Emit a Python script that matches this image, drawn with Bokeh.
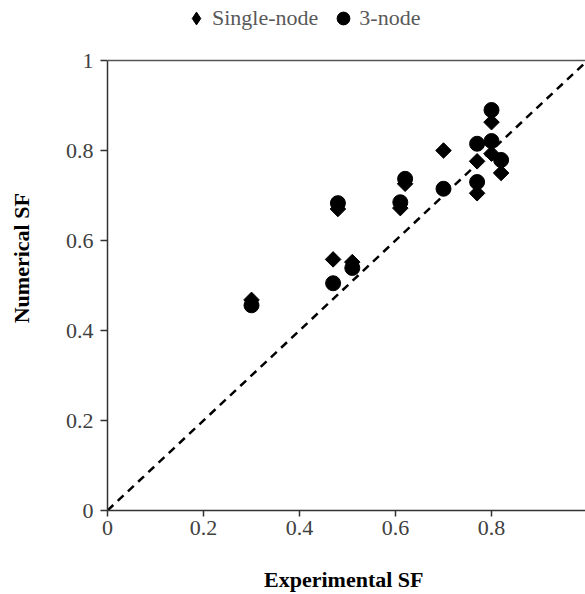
import math
from bokeh.plotting import figure
from bokeh.models import Range1d, Legend, LegendItem, Span, FixedTicker
from bokeh.embed import file_html
from bokeh.resources import INLINE

# Data
single_x = [0.30, 0.47, 0.51, 0.48, 0.61, 0.62, 0.70, 0.77, 0.77, 0.80, 0.80, 0.82]
single_y = [0.468, 0.558, 0.552, 0.670, 0.672, 0.726, 0.800, 0.776, 0.705, 0.863, 0.793, 0.750]
three_x = [0.30, 0.47, 0.51, 0.48, 0.61, 0.62, 0.70, 0.77, 0.77, 0.80, 0.80, 0.82]
three_y = [0.456, 0.505, 0.539, 0.683, 0.685, 0.737, 0.715, 0.815, 0.730, 0.890, 0.821, 0.779]
diag_x = [0, 1]
diag_y = [0, 1]
x_ticks = [0, 0.2, 0.4, 0.6, 0.8, 1.0]
y_ticks = [0, 0.2, 0.4, 0.6, 0.8, 1.0]
series_names = ["Single-node", "3-node"]

FONT = "Liberation Serif"
FS = "22px"

# frame spans from the top of the canvas; the data box is 0..1, the space above holds the legend
p = figure(width=585, height=594, output_backend="svg", toolbar_location=None,
           x_range=Range1d(0, 0.9958), y_range=Range1d(0, 510 / 450),
           min_border_left=107, min_border_right=0, min_border_top=0, min_border_bottom=84)
p.outline_line_color = None
p.grid.grid_line_color = None
p.background_fill_color = "white"
p.border_fill_color = "white"

p.line(diag_x, diag_y, line_color="black", line_width=2.5, line_dash="8 6")

# diamond-shaped series: narrow diamond (used for the legend) under a rotated square
r1_leg = p.scatter(single_x, single_y, marker="diamond", size=11,
                   fill_color="black", line_color="black")
r1 = p.scatter(single_x, single_y, marker="square", angle=math.pi / 4, size=11,
               fill_color="black", line_color="black")
r2 = p.scatter(three_x, three_y, marker="circle", size=15,
               fill_color="black", line_color="black")

p.add_layout(Span(location=1, dimension="width", line_color="#555555", line_width=1.5))

for ax, ticks in ((p.xaxis, x_ticks), (p.yaxis, y_ticks)):
    ax.ticker = FixedTicker(ticks=ticks)
    ax.bounds = (0, 1)
    ax.axis_line_color = "#333333"
    ax.axis_line_width = 1.5
    ax.major_tick_line_color = "#333333"
    ax.major_tick_line_width = 1.5
    ax.minor_tick_line_color = None
    ax.major_tick_in = 0
    ax.major_label_text_font = FONT
    ax.major_label_text_font_size = FS
    ax.major_label_text_color = "#404040"
    ax.axis_label_text_font = FONT
    ax.axis_label_text_font_size = FS
    ax.axis_label_text_font_style = "bold"
    ax.axis_label_text_color = "black"

p.xaxis.major_label_overrides = {0: "0", 1.0: "1"}
p.yaxis.major_label_overrides = {0: "0", 1.0: "1"}
p.xaxis.major_tick_out = 6
p.yaxis.major_tick_out = 7
p.xaxis.major_label_standoff = 4
p.yaxis.major_label_standoff = 7
p.xaxis.axis_label = "Experimental  SF"
p.yaxis.axis_label = "Numerical  SF"
p.xaxis.axis_label_standoff = 29
p.yaxis.axis_label_standoff = 29

legend = Legend(items=[LegendItem(label=series_names[0], renderers=[r1_leg]),
                       LegendItem(label=series_names[1], renderers=[r2])],
                location=(73, 476), orientation="horizontal",
                border_line_color=None, background_fill_alpha=0,
                padding=0, margin=0, spacing=9, label_standoff=0,
                glyph_width=32, glyph_height=32,
                label_text_font=FONT, label_text_font_size=FS,
                label_text_color="#595959")
p.add_layout(legend, "center")

open("out.html", "w").write(file_html(p, INLINE))
